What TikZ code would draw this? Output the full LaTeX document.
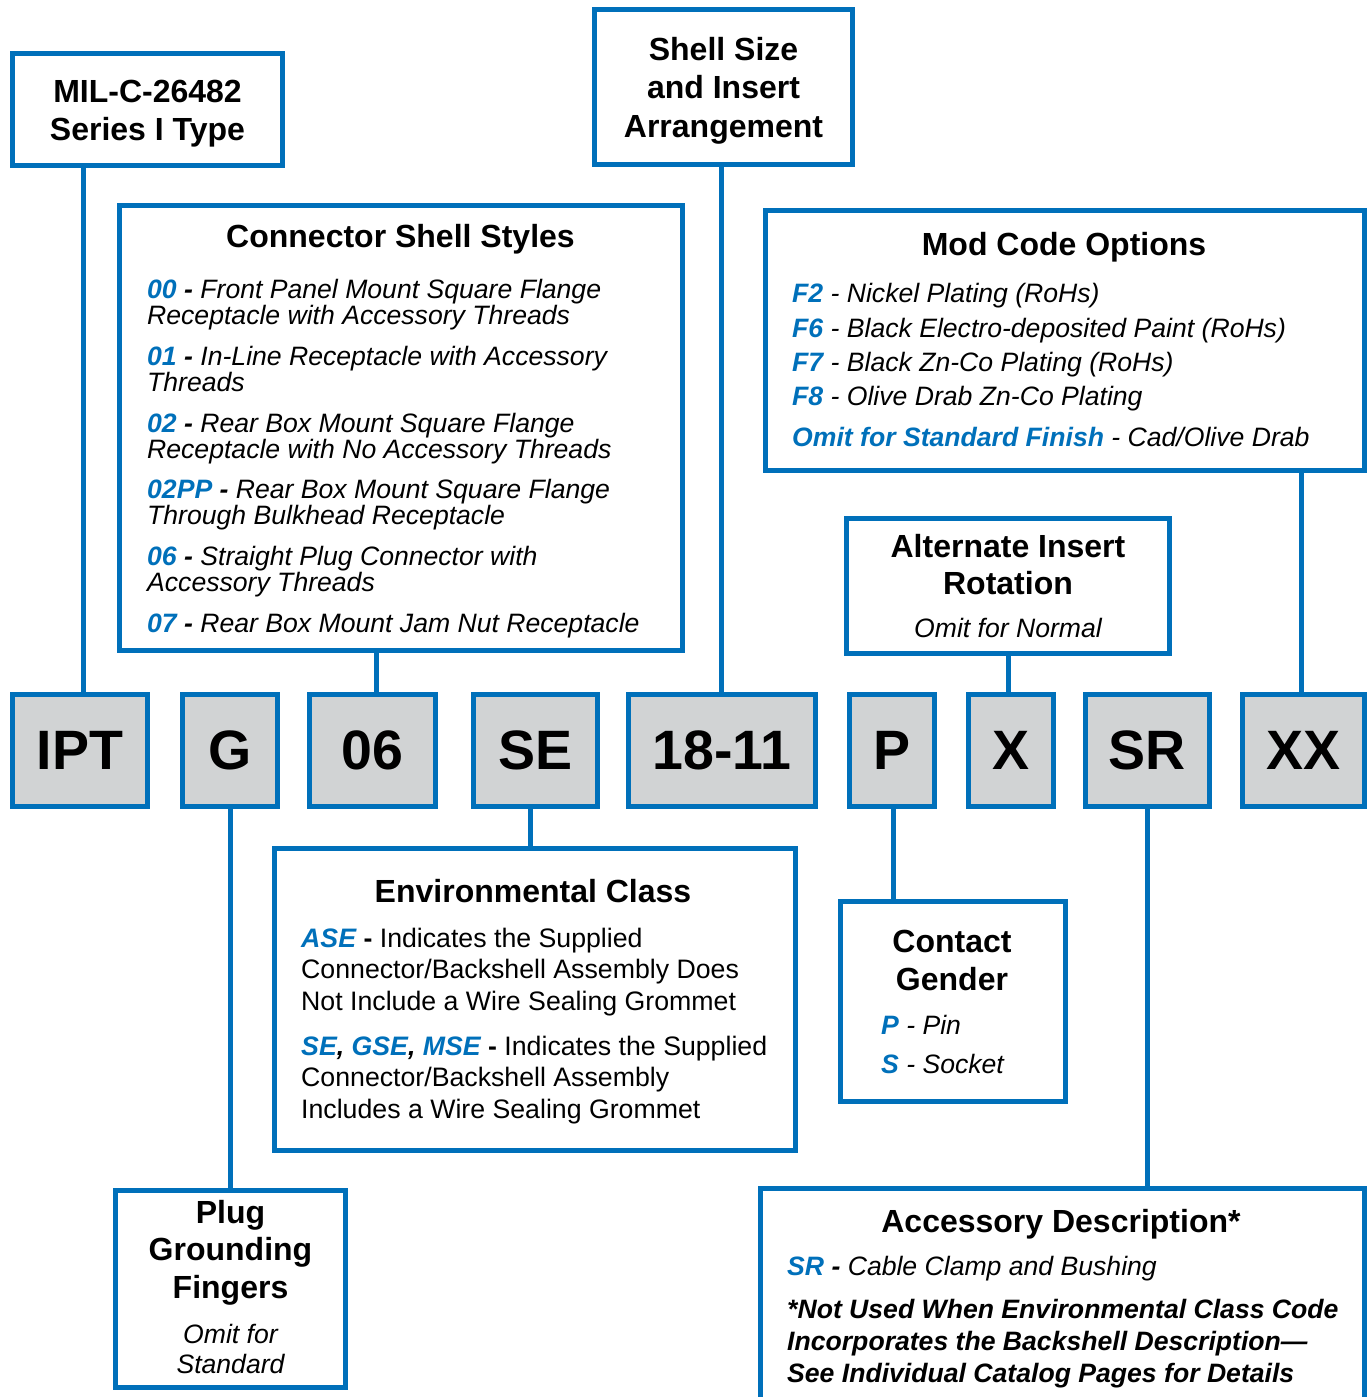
\documentclass[tikz,border=0pt]{standalone}
\usepackage{fontspec}
\setmainfont{Liberation Sans}
\definecolor{ptblue}{RGB}{0,112,186}
\definecolor{ptgray}{RGB}{209,211,212}
\newcommand{\opt}[1]{{\color{ptblue}\bfseries\itshape #1}}
\begin{document}
\begin{tikzpicture}[
   x=1pt,y=-1pt,
   every matrix/.style={ampersand replacement=\&,column sep=0pt,inner sep=0pt,outer sep=0pt},
   box/.style={draw=ptblue,line width=5pt,fill=white,inner sep=0pt},
   code/.style={draw=ptblue,line width=5pt,fill=ptgray,inner sep=0pt,minimum height=112pt,font=\fontsize{55.5}{60}\selectfont\bfseries},
   link/.style={draw=ptblue,line width=5pt},
   head/.style={font=\fontsize{32}{38}\selectfont\bfseries,align=center,anchor=base,inner sep=0pt},
   item/.style={font=\fontsize{26.6}{26.5}\selectfont\itshape,align=left,anchor=base west,inner sep=0pt},
   plain/.style={font=\fontsize{26.7}{31.5}\selectfont,align=left,anchor=base west,inner sep=0pt}]
\useasboundingbox (0,0) rectangle (1372,1397);
% part number row
\matrix[anchor=north west] (row) at (10,692) {
\node[code,minimum width=135pt] (cIPT) {IPT};\&[30pt]\node[code,minimum width=95pt] (cG) {G};\&[27pt]\node[code,minimum width=126pt] (c06) {06};\&[33pt]\node[code,minimum width=124pt] (cSE) {SE};\&[26pt]\node[code,minimum width=187pt] (c1811) {18-11};\&[29pt]\node[code,minimum width=85pt] (cP) {P};\&[29pt]\node[code,minimum width=85pt] (cX) {X};\&[27pt]\node[code,minimum width=124pt] (cSR) {SR};\&[28pt]\node[code,minimum width=122pt] (cXX) {XX};\\
};
% description boxes
\node[box,minimum width=270pt,minimum height=112pt] (mil) at (147.5,109.5) {};
\node[box,minimum width=258pt,minimum height=155pt] (size) at (723.5,87) {};
\node[box,minimum width=563pt,minimum height=445pt] (sty) at (400.5,428) {};
\node[box,minimum width=599pt,minimum height=260pt] (mod) at (1065,340) {};
\node[box,minimum width=323pt,minimum height=135pt] (rot) at (1008,586) {};
\node[box,minimum width=521pt,minimum height=302pt] (env) at (535,999.5) {};
\node[box,minimum width=225pt,minimum height=200pt] (gen) at (953,1001.5) {};
\node[box,minimum width=230pt,minimum height=197pt] (grd) at (230.5,1289) {};
\node[box,minimum width=604pt,minimum height=214pt] (acc) at (1062.5,1295.5) {};
% connectors
\draw[link] ([xshift=3pt]cIPT.north) -- ([xshift=3pt]cIPT.north |- mil.south);
\draw[link] ([xshift=3.5pt]c06.north) -- ([xshift=3.5pt]c06.north |- sty.south);
\draw[link] ([xshift=-1pt]c1811.north) -- ([xshift=-1pt]c1811.north |- size.south);
\draw[link] ([xshift=-3pt]cX.north) -- ([xshift=-3pt]cX.north |- rot.south);
\draw[link] ([xshift=-2.5pt]cXX.north) -- ([xshift=-2.5pt]cXX.north |- mod.south);
\draw[link] (cG.south) -- (cG.south |- grd.north);
\draw[link] ([xshift=-5.5pt]cSE.south) -- ([xshift=-5.5pt]cSE.south |- env.north);
\draw[link] ([xshift=1pt]cP.south) -- ([xshift=1pt]cP.south |- gen.north);
\draw[link] (cSR.south) -- (cSR.south |- acc.north);
% texts (base = last line)
\node[head] (milT) at (147.5,140) {MIL-C-26482\\Series I Type};
\node[head,font=\fontsize{32}{38.5}\selectfont\bfseries] (sizeT) at (723.5,137) {Shell Size\\and Insert\\Arrangement};
\node[head] (styT) at (400.5,247) {Connector Shell Styles};
\node[item] (sty00) at (147,324.5) {\opt{00} \textbf{-} Front Panel Mount Square Flange\\Receptacle with Accessory Threads};
\node[item] (sty01) at (147,391.5) {\opt{01} \textbf{-} In-Line Receptacle with Accessory\\Threads};
\node[item] (sty02) at (147,458.5) {\opt{02} \textbf{-} Rear Box Mount Square Flange\\Receptacle with No Accessory Threads};
\node[item] (sty02PP) at (147,524.5) {\opt{02PP} \textbf{-} Rear Box Mount Square Flange\\Through Bulkhead Receptacle};
\node[item] (sty06) at (147,591.5) {\opt{06} \textbf{-} Straight Plug Connector with\\Accessory Threads};
\node[item] (sty07) at (147,632) {\opt{07} \textbf{-} Rear Box Mount Jam Nut Receptacle};
\node[head] (modT) at (1064,255) {Mod Code Options};
\node[item] (modF2) at (792,302) {\opt{F2} - Nickel Plating (RoHs)};
\node[item] (modF6) at (792,337) {\opt{F6} - Black Electro-deposited Paint (RoHs)};
\node[item] (modF7) at (792,371) {\opt{F7} - Black Zn-Co Plating (RoHs)};
\node[item] (modF8) at (792,405) {\opt{F8} - Olive Drab Zn-Co Plating};
\node[item] (modStd) at (792,446) {\opt{Omit for Standard Finish} - Cad/Olive Drab};
\node[head,font=\fontsize{32}{37}\selectfont\bfseries] (rotT) at (1008,594) {Alternate Insert\\Rotation};
\node[item,anchor=base] (rotN) at (1008,637) {Omit for Normal};
\node[head] (envT) at (533,902) {Environmental Class};
\node[plain] (envASE) at (301,1010) {\opt{ASE} \textbf{-} Indicates the Supplied\\Connector/Backshell Assembly Does\\Not Include a Wire Sealing Grommet};
\node[plain] (envSE) at (301,1118) {\opt{SE}{\bfseries\itshape ,} \opt{GSE}{\bfseries\itshape ,} \opt{MSE} \textbf{-} Indicates the Supplied\\Connector/Backshell Assembly\\Includes a Wire Sealing Grommet};
\node[head] (genT) at (952,990) {Contact\\Gender};
\node[item] (genP) at (881,1034) {\opt{P} - Pin};
\node[item] (genS) at (881,1073) {\opt{S} - Socket};
\node[head,font=\fontsize{32}{37.5}\selectfont\bfseries] (grdT) at (230.5,1298) {Plug\\Grounding\\Fingers};
\node[item,anchor=base,align=center,font=\fontsize{26.6}{30}\selectfont\itshape] (grdN) at (230.5,1373) {Omit for\\Standard};
\node[head] (accT) at (1061,1232) {Accessory Description*};
\node[item] (accSR) at (787,1275) {\opt{SR} \textbf{-} Cable Clamp and Bushing};
\node[item,font=\fontsize{26.6}{32}\selectfont\bfseries\itshape] (accNote) at (787,1382) {*Not Used When Environmental Class Code\\Incorporates the Backshell Description—\\See Individual Catalog Pages for Details};
\end{tikzpicture}
\end{document}
